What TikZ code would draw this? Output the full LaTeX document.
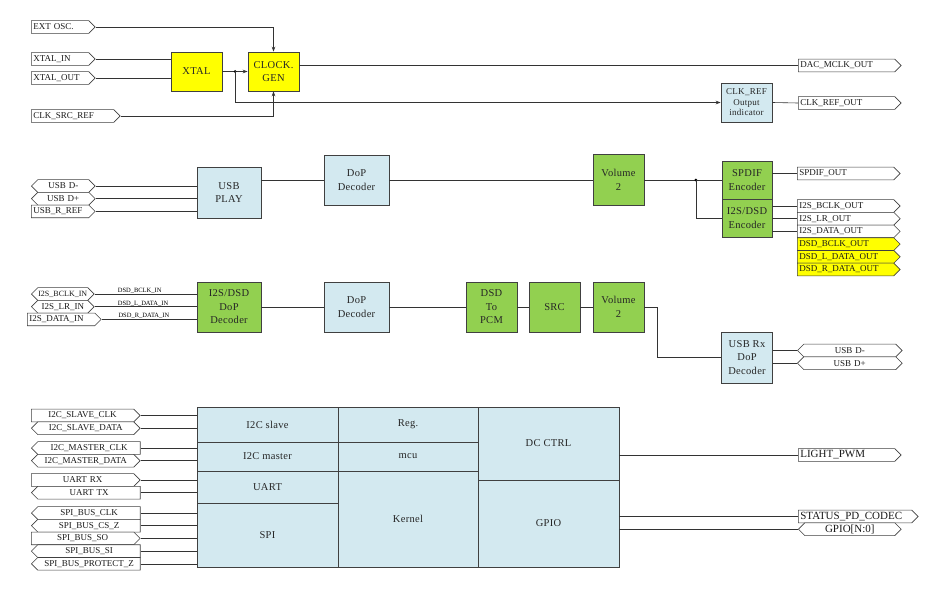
\documentclass[tikz,border=0pt]{standalone}
\usepackage{fontspec}
\setmainfont{Liberation Serif}
\newfontfamily\boxfont{Liberation Serif}[LetterSpace=3]
\usetikzlibrary{arrows.meta,shapes.symbols,calc}
\definecolor{chipyellow}{RGB}{255,255,0}
\definecolor{chipgreen}{RGB}{146,208,80}
\definecolor{chipblue}{RGB}{211,233,240}

\begin{document}
\begin{tikzpicture}[x=1pt,y=-1pt,>={Stealth[length=5pt,width=3.6pt]},
  wire/.style={draw=black!80,line width=.6pt},
  blk/.style={rectangle,draw=black!75,line width=.7pt,inner sep=0pt,align=center,
    font=\boxfont\fontsize{10.5}{13.5}\selectfont,text=black!85},
  sz/.style 2 args={minimum width=#1pt,minimum height=#2pt},
  yelblk/.style={blk,fill=chipyellow},
  grnblk/.style={blk,fill=chipgreen},
  blublk/.style={blk,fill=chipblue},
  port/.style={signal,draw=black!75,line width=.6pt,fill=white,minimum height=12.7pt,
    inner xsep=2pt,inner ysep=0pt,signal pointer angle=90,anchor=west,
    font=\fontsize{9}{10}\selectfont,text=black!90,align=left},
  inport/.style={port,signal to=east},
  outport/.style={port,signal to=west,align=center},
  bidport/.style={port,signal to=east and west,align=center},
  sigtag/.style={font=\fontsize{6.5}{7}\selectfont,inner sep=.5pt,anchor=south west}]
  \useasboundingbox (0,0) rectangle (933,615);

  % clock generation
  \node[yelblk,sz={51}{39}] (xtal) at (196.5,71.5) {XTAL};
  \node[yelblk,sz={51}{39}] (clkgen) at (273.5,71.5) {CLOCK.\\GEN};
  \node[blublk,sz={51}{39},font=\boxfont\fontsize{9}{10.5}\selectfont] (clkref)
    at (746.5,102.5) {CLK\_REF\\Output\\indicator};
  \node[inport,text width=53.5pt] (extosc) at (31,27) {EXT OSC.};
  \node[inport,text width=53.5pt] (xtalin) at (31,59) {XTAL\_IN};
  \node[inport,text width=53.5pt] (xtalout) at (31,78) {XTAL\_OUT};
  \node[inport,text width=78.5pt] (clksrc) at (31,116) {CLK\_SRC\_REF};
  \node[inport,text width=92.5pt] (dacmclk) at (798,65.5) {DAC\_MCLK\_OUT};
  \node[inport,text width=92.5pt] (clkrefout) at (798,103) {CLK\_REF\_OUT};
  \draw[wire,->] (extosc.east) -| (clkgen.north);
  \draw[wire] (xtalin.east) -- (xtalin.east -| xtal.west);
  \draw[wire] (xtalout.east) -- (xtalout.east -| xtal.west);
  \draw[wire,->] (xtal.east) -- (clkgen.west);
  \coordinate (jclk) at ($(xtal.east)!.5!(clkgen.west)$);
  \fill (jclk) circle (1.5pt);
  \draw[wire,->] (jclk) |- (clkref.west);
  \draw[wire,->] (clksrc.east) -| (clkgen.south);
  \draw[wire] (clkgen.east |- dacmclk.west) -- (dacmclk.west);
  \draw[wire] (clkref.east) -- (clkrefout.west);

  % usb playback
  \node[blublk,sz={64}{51}] (usbplay) at (229,192.5) {USB\\PLAY};
  \node[blublk,sz={65}{50}] (dopdec1) at (356.5,180) {DoP\\Decoder};
  \node[grnblk,sz={51}{51}] (vol1) at (618.5,180) {Volume\\2};
  \node[grnblk,sz={50}{38}] (spdif) at (747,180) {SPDIF\\Encoder};
  \node[grnblk,sz={50}{38}] (i2senc) at (747,218) {I2S/DSD\\Encoder};
  \node[bidport,text width=47pt] (usbdm) at (31,186) {USB D-};
  \node[bidport,text width=47pt] (usbdp) at (31,198.7) {USB D+};
  \node[inport,text width=53.5pt] (usbref) at (31,211.4) {USB\_R\_REF};
  \node[inport,text width=92.5pt] (spdifout) at (797,173.5) {SPDIF\_OUT};
  \node[inport,text width=92.5pt] (bclkout) at (797,206) {I2S\_BCLK\_OUT};
  \node[inport,text width=92.5pt] (lrout) at (797,218.7) {I2S\_LR\_OUT};
  \node[inport,text width=92.5pt] (dataout) at (797,231.4) {I2S\_DATA\_OUT};
  \node[inport,text width=92.5pt,fill=chipyellow] (dsdbclk) at (797,244.1) {DSD\_BCLK\_OUT};
  \node[inport,text width=92.5pt,fill=chipyellow] (dsdldata) at (797,256.8) {DSD\_L\_DATA\_OUT};
  \node[inport,text width=92.5pt,fill=chipyellow] (dsdrdata) at (797,269.5) {DSD\_R\_DATA\_OUT};
  \draw[wire] (usbdm.east) -- (usbdm.east -| usbplay.west);
  \draw[wire] (usbdp.east) -- (usbdp.east -| usbplay.west);
  \draw[wire] (usbref.east) -- (usbref.east -| usbplay.west);
  \draw[wire] (usbplay.east |- dopdec1.west) -- (dopdec1.west);
  \draw[wire] (dopdec1.east) -- (vol1.west);
  \draw[wire] (vol1.east) -- (spdif.west);
  \coordinate (jenc) at ($(vol1.east)!.667!(spdif.west)$);
  \fill (jenc) circle (1.5pt);
  \draw[wire] (jenc) |- (i2senc.west);
  \draw[wire] (spdif.east |- spdifout.west) -- (spdifout.west);
  \draw[wire] (i2senc.east |- bclkout.west) -- (bclkout.west);
  \draw[wire] (i2senc.east |- lrout.west) -- (lrout.west);
  \draw[wire] (i2senc.east |- dataout.west) -- (dataout.west);

  % i2s / dsd input
  \node[grnblk,sz={64}{50}] (dsddop) at (229,307) {I2S/DSD\\DoP\\Decoder};
  \node[blublk,sz={65}{50}] (dopdec2) at (356.5,307) {DoP\\Decoder};
  \node[grnblk,sz={51}{50}] (dsd2pcm) at (491.5,307) {DSD\\To\\PCM};
  \node[grnblk,sz={51}{50}] (src) at (554.5,307) {SRC};
  \node[grnblk,sz={51}{50}] (vol2) at (618.5,307) {Volume\\2};
  \node[blublk,sz={51}{51}] (usbrx) at (747,357.5) {USB Rx\\DoP\\Decoder};
  \node[bidport,text width=50pt,inner xsep=0pt,font=\fontsize{8}{9}\selectfont]
    (i2sbclk) at (31,294) {I2S\_BCLK\_IN};
  \node[bidport,text width=46pt] (i2slr) at (31,306.7) {I2S\_LR\_IN};
  \node[inport,text width=63.5pt] (i2sdata) at (27,319.4) {I2S\_DATA\_IN};
  \node[bidport,text width=88pt] (usbrxdm) at (797,350.5) {USB D-};
  \node[bidport,text width=88pt] (usbrxdp) at (797,363.2) {USB D+};
  \draw[wire] (i2sbclk.east) -- node[sigtag,pos=.22] (tagbclk) {DSD\_BCLK\_IN}
    (i2sbclk.east -| dsddop.west);
  \draw[wire] (i2slr.east) -- node[sigtag,pos=.22] (tagldata) {DSD\_L\_DATA\_IN}
    (i2slr.east -| dsddop.west);
  \draw[wire] (i2sdata.east) -- node[sigtag,pos=.17] (tagrdata) {DSD\_R\_DATA\_IN}
    (i2sdata.east -| dsddop.west);
  \draw[wire] (dsddop.east) -- (dopdec2.west);
  \draw[wire] (dopdec2.east) -- (dsd2pcm.west);
  \draw[wire] (dsd2pcm.east) -- (src.west);
  \draw[wire] (src.east) -- (vol2.west);
  \draw[wire] (vol2.east) -- ++(13,0) |- (usbrx.west);
  \draw[wire] (usbrx.east |- usbrxdm.west) -- (usbrxdm.west);
  \draw[wire] (usbrx.east |- usbrxdp.west) -- (usbrxdp.west);

  % control core
  \node[blublk,sz={141}{35}] (i2cs) at (267.5,424.5) {I2C slave};
  \node[blublk,sz={141}{29}] (i2cm) at (267.5,456.5) {I2C master};
  \node[blublk,sz={141}{32}] (uart) at (267.5,487) {UART};
  \node[blublk,sz={141}{64}] (spi) at (267.5,535) {SPI};
  \node[blublk,sz={140}{35}] (reg) at (408,424.5) {Reg.};
  \node[blublk,sz={140}{29}] (mcu) at (408,456.5) {mcu};
  \node[blublk,sz={140}{96}] (kernel) at (408,519) {Kernel};
  \node[blublk,sz={141}{73}] (dcctrl) at (548.5,443.5) {DC CTRL};
  \node[blublk,sz={141}{87}] (gpio) at (548.5,523.5) {GPIO};
  \node[inport,text width=98.5pt,align=center] (i2csclk) at (31,415.5) {I2C\_SLAVE\_CLK};
  \node[bidport,text width=92pt] (i2csdat) at (31,428.2) {I2C\_SLAVE\_DATA};
  \node[outport,text width=98.5pt] (i2cmclk) at (31,448) {I2C\_MASTER\_CLK};
  \node[bidport,text width=92pt] (i2cmdat) at (31,460.7) {I2C\_MASTER\_DATA};
  \node[inport,text width=98.5pt,align=center] (uartrx) at (31,480) {UART RX};
  \node[outport,text width=98.5pt] (uarttx) at (31,492.7) {UART TX};
  \node[outport,text width=98.5pt] (spiclk) at (31,513) {SPI\_BUS\_CLK};
  \node[outport,text width=98.5pt] (spics) at (31,525.7) {SPI\_BUS\_CS\_Z};
  \node[inport,text width=98.5pt,align=center] (spiso) at (31,538.4) {SPI\_BUS\_SO};
  \node[outport,text width=98.5pt] (spisi) at (31,551.1) {SPI\_BUS\_SI};
  \node[outport,text width=98.5pt] (spiprot) at (31,563.8) {SPI\_BUS\_PROTECT\_Z};
  \node[inport,text width=92.5pt,font=\fontsize{11}{12}\selectfont] (lightpwm)
    at (798,455) {LIGHT\_PWM};
  \node[inport,text width=109.5pt,font=\fontsize{11}{12}\selectfont] (statuspd)
    at (798,516.5) {STATUS\_PD\_CODEC};
  \node[bidport,text width=86pt,font=\fontsize{11}{12}\selectfont] (gpioport)
    at (798,529.2) {GPIO[N:0]};
  \draw[wire] (i2csclk.east) -- (i2csclk.east -| i2cs.west);
  \draw[wire] (i2csdat.east) -- (i2csdat.east -| i2cs.west);
  \draw[wire] (i2cmclk.east) -- (i2cmclk.east -| i2cm.west);
  \draw[wire] (i2cmdat.east) -- (i2cmdat.east -| i2cm.west);
  \draw[wire] (uartrx.east) -- (uartrx.east -| uart.west);
  \draw[wire] (uarttx.east) -- (uarttx.east -| uart.west);
  \draw[wire] (spiclk.east) -- (spiclk.east -| spi.west);
  \draw[wire] (spics.east) -- (spics.east -| spi.west);
  \draw[wire] (spiso.east) -- (spiso.east -| spi.west);
  \draw[wire] (spisi.east) -- (spisi.east -| spi.west);
  \draw[wire] (spiprot.east) -- (spiprot.east -| spi.west);
  \draw[wire] (dcctrl.east |- lightpwm.west) -- (lightpwm.west);
  \draw[wire] (gpio.east |- statuspd.west) -- (statuspd.west);
  \draw[wire] (gpio.east |- gpioport.west) -- (gpioport.west);
\end{tikzpicture}
\end{document}
